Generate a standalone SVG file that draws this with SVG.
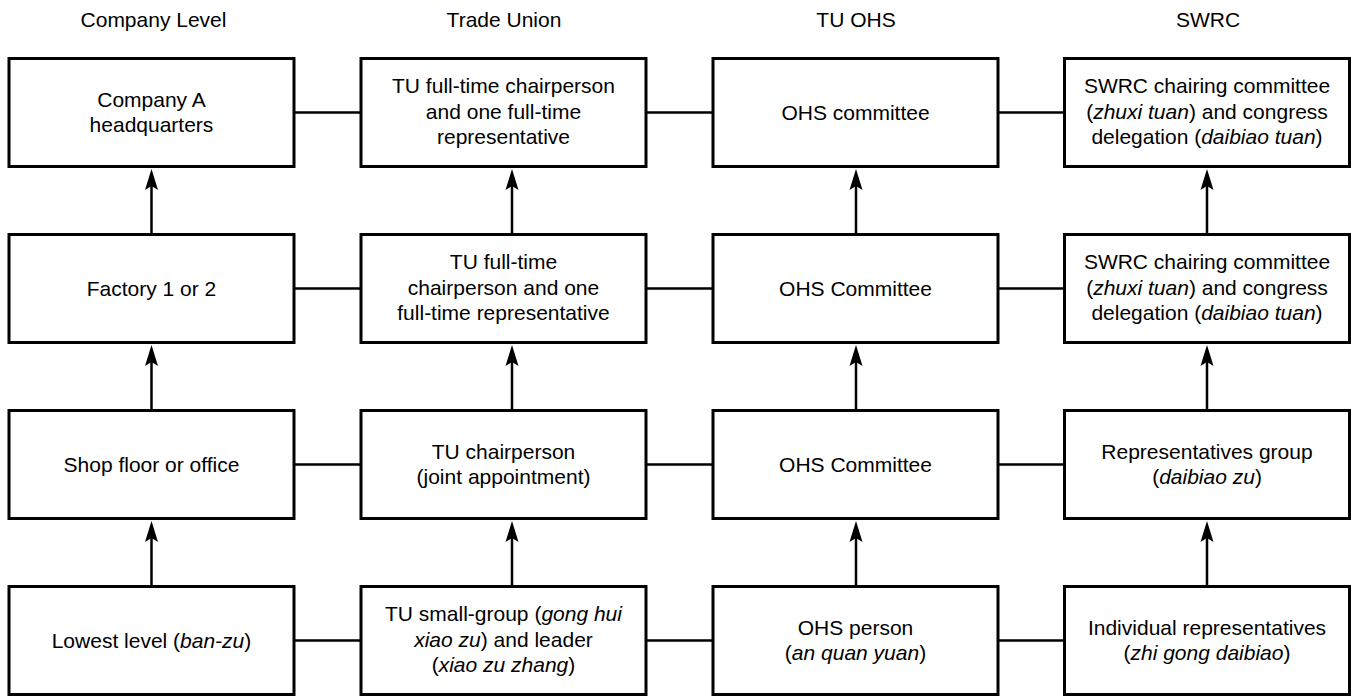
<svg xmlns="http://www.w3.org/2000/svg" width="1351" height="696" viewBox="0 0 1351 696">
<style>
  .box{fill:#fff;stroke:#000;stroke-width:3}
  .t{font-family:"Liberation Sans",Arial,Helvetica,sans-serif;font-size:21px;fill:#000;text-anchor:middle}
  .i{font-style:italic}
  .ln{stroke:#000;stroke-width:2.5;fill:none}
  .ar{stroke:#000;stroke-width:2.5;fill:none;marker-end:url(#ah)}
</style>
<defs>
  <marker id="ah" markerUnits="userSpaceOnUse" markerWidth="24" markerHeight="14" viewBox="0 -7 24 14" refX="4" refY="0" orient="auto">
    <path d="M0,-6.5 L21,0 L0,6.5 L4,0 Z" fill="#000"/>
  </marker>
</defs>
<rect width="1351" height="696" fill="#fff"/>

<g id="headers">
  <text class="t" x="153.5" y="27">Company Level</text>
  <text class="t" x="504" y="27">Trade Union</text>
  <text class="t" x="856" y="27">TU OHS</text>
  <text class="t" x="1208" y="27">SWRC</text>
</g>

<g id="connectors">
  <!-- horizontal -->
  <line class="ln" x1="294" y1="112.5" x2="361" y2="112.5"/>
  <line class="ln" x1="646" y1="112.5" x2="713" y2="112.5"/>
  <line class="ln" x1="998" y1="112.5" x2="1064.5" y2="112.5"/>
  <line class="ln" x1="294" y1="288.5" x2="361" y2="288.5"/>
  <line class="ln" x1="646" y1="288.5" x2="713" y2="288.5"/>
  <line class="ln" x1="998" y1="288.5" x2="1064.5" y2="288.5"/>
  <line class="ln" x1="294" y1="464.5" x2="361" y2="464.5"/>
  <line class="ln" x1="646" y1="464.5" x2="713" y2="464.5"/>
  <line class="ln" x1="998" y1="464.5" x2="1064.5" y2="464.5"/>
  <line class="ln" x1="294" y1="640.5" x2="361" y2="640.5"/>
  <line class="ln" x1="646" y1="640.5" x2="713" y2="640.5"/>
  <line class="ln" x1="998" y1="640.5" x2="1064.5" y2="640.5"/>
  <!-- vertical arrows -->
  <line class="ar" x1="151.5" y1="233" x2="151.5" y2="186"/>
  <line class="ar" x1="151.5" y1="409" x2="151.5" y2="362"/>
  <line class="ar" x1="151.5" y1="585" x2="151.5" y2="538"/>
  <line class="ar" x1="512" y1="233" x2="512" y2="186"/>
  <line class="ar" x1="512" y1="409" x2="512" y2="362"/>
  <line class="ar" x1="512" y1="585" x2="512" y2="538"/>
  <line class="ar" x1="856" y1="233" x2="856" y2="186"/>
  <line class="ar" x1="856" y1="409" x2="856" y2="362"/>
  <line class="ar" x1="856" y1="585" x2="856" y2="538"/>
  <line class="ar" x1="1207" y1="233" x2="1207" y2="186"/>
  <line class="ar" x1="1207" y1="409" x2="1207" y2="362"/>
  <line class="ar" x1="1207" y1="585" x2="1207" y2="538"/>
</g>

<!-- Column 1 -->
<g id="company-hq">
  <rect class="box" x="9" y="58.5" width="285" height="108"/>
  <text class="t" x="151.5" y="106.5">Company A</text>
  <text class="t" x="151.5" y="131.9">headquarters</text>
</g>
<g id="factory">
  <rect class="box" x="9" y="234.5" width="285" height="108"/>
  <text class="t" x="151.5" y="295.5">Factory 1 or 2</text>
</g>
<g id="shopfloor">
  <rect class="box" x="9" y="410.5" width="285" height="108"/>
  <text class="t" x="151.5" y="471.5">Shop floor or office</text>
</g>
<g id="lowest">
  <rect class="box" x="9" y="586.5" width="285" height="108"/>
  <text class="t" x="151.5" y="647.5">Lowest level (<tspan class="i">ban-zu</tspan>)</text>
</g>

<!-- Column 2 -->
<g id="tu-hq">
  <rect class="box" x="361" y="58.5" width="285" height="108"/>
  <text class="t" x="503.5" y="93.2">TU full-time chairperson</text>
  <text class="t" x="503.5" y="118.6">and one full-time</text>
  <text class="t" x="503.5" y="144">representative</text>
</g>
<g id="tu-factory">
  <rect class="box" x="361" y="234.5" width="285" height="108"/>
  <text class="t" x="503.5" y="269.2">TU full-time</text>
  <text class="t" x="503.5" y="294.6">chairperson and one</text>
  <text class="t" x="503.5" y="320">full-time representative</text>
</g>
<g id="tu-shop">
  <rect class="box" x="361" y="410.5" width="285" height="108"/>
  <text class="t" x="503.5" y="458.5">TU chairperson</text>
  <text class="t" x="503.5" y="483.9">(joint appointment)</text>
</g>
<g id="tu-small">
  <rect class="box" x="361" y="586.5" width="285" height="108"/>
  <text class="t" x="503.5" y="621.2">TU small-group (<tspan class="i">gong hui</tspan></text>
  <text class="t" x="503.5" y="646.6"><tspan class="i">xiao zu</tspan>) and leader</text>
  <text class="t" x="503.5" y="672">(<tspan class="i">xiao zu zhang</tspan>)</text>
</g>

<!-- Column 3 -->
<g id="ohs-hq">
  <rect class="box" x="713" y="58.5" width="285" height="108"/>
  <text class="t" x="855.5" y="119.5">OHS committee</text>
</g>
<g id="ohs-factory">
  <rect class="box" x="713" y="234.5" width="285" height="108"/>
  <text class="t" x="855.5" y="295.5">OHS Committee</text>
</g>
<g id="ohs-shop">
  <rect class="box" x="713" y="410.5" width="285" height="108"/>
  <text class="t" x="855.5" y="471.5">OHS Committee</text>
</g>
<g id="ohs-person">
  <rect class="box" x="713" y="586.5" width="285" height="108"/>
  <text class="t" x="855.5" y="634.5">OHS person</text>
  <text class="t" x="855.5" y="659.9">(<tspan class="i">an quan yuan</tspan>)</text>
</g>

<!-- Column 4 -->
<g id="swrc-hq">
  <rect class="box" x="1064.5" y="58.5" width="285" height="108"/>
  <text class="t" x="1207" y="93.2">SWRC chairing committee</text>
  <text class="t" x="1207" y="118.6">(<tspan class="i">zhuxi tuan</tspan>) and congress</text>
  <text class="t" x="1207" y="144">delegation (<tspan class="i">daibiao tuan</tspan>)</text>
</g>
<g id="swrc-factory">
  <rect class="box" x="1064.5" y="234.5" width="285" height="108"/>
  <text class="t" x="1207" y="269.2">SWRC chairing committee</text>
  <text class="t" x="1207" y="294.6">(<tspan class="i">zhuxi tuan</tspan>) and congress</text>
  <text class="t" x="1207" y="320">delegation (<tspan class="i">daibiao tuan</tspan>)</text>
</g>
<g id="swrc-group">
  <rect class="box" x="1064.5" y="410.5" width="285" height="108"/>
  <text class="t" x="1207" y="458.5">Representatives group</text>
  <text class="t" x="1207" y="483.9">(<tspan class="i">daibiao zu</tspan>)</text>
</g>
<g id="swrc-individual">
  <rect class="box" x="1064.5" y="586.5" width="285" height="108"/>
  <text class="t" x="1207" y="634.5">Individual representatives</text>
  <text class="t" x="1207" y="659.9">(<tspan class="i">zhi gong daibiao</tspan>)</text>
</g>
</svg>
